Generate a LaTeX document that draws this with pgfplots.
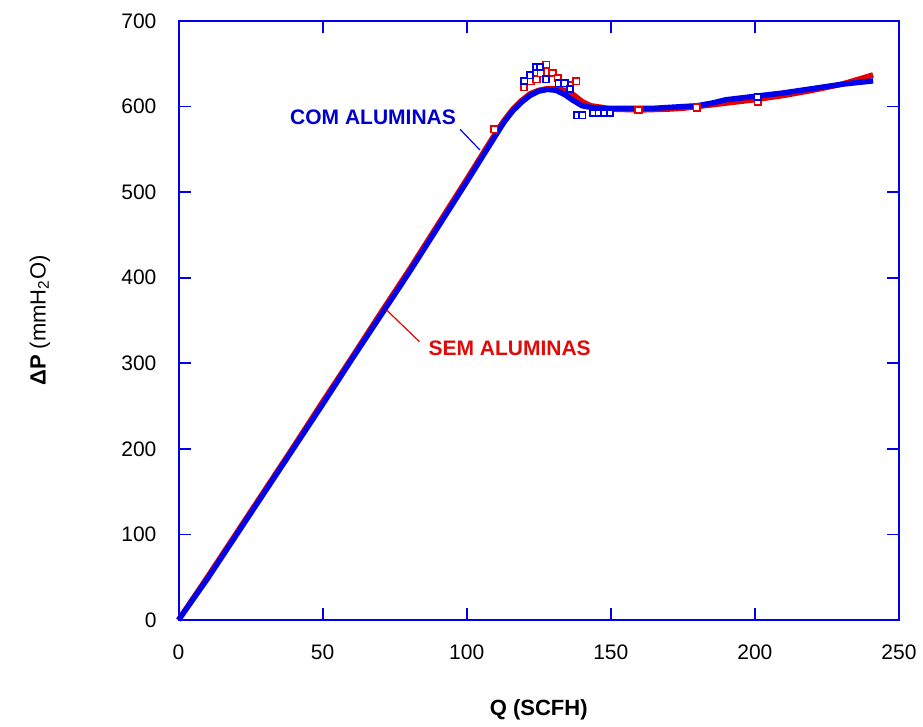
\documentclass[border=0pt]{standalone}
\usepackage{fontspec}
\setmainfont{Liberation Sans}
\usepackage{pgfplots}
\pgfplotsset{compat=1.18}
\definecolor{cblue}{RGB}{0,0,235}
\definecolor{cred}{RGB}{230,0,0}
\definecolor{tblue}{RGB}{0,0,205}
\definecolor{tred}{RGB}{225,10,10}
\begin{document}
\begin{tikzpicture}
\begin{axis}[
  scale only axis,
  width=360.25pt, height=299.5pt,
  xmin=0, xmax=250, ymin=0, ymax=700,
  xtick={0,50,...,250}, ytick={0,100,...,700},
  tick align=inside,
  major tick length=6pt,
  minor tick num=0,
  axis line style={cblue, line width=1pt},
  tick style={cblue, line width=0.9pt},
  /pgf/number format/assume math mode=true,
  ticklabel style={font=\fontsize{10.5}{12}\selectfont},
  xticklabel style={yshift=-9pt},
  yticklabel style={xshift=-7.5pt},
  xlabel={\textbf{Q (SCFH)}},
  ylabel={\textbf{ΔP} (mmH\textsubscript{2}O)},
  label style={font=\fontsize{11}{13}\selectfont},
  xlabel style={at={(axis description cs:0.5,-0.1503)}, anchor=center},
  ylabel style={at={(axis description cs:-0.1922,0.5)}, anchor=center},
  clip=false,
]
% SEM ALUMINAS (red) main curve
\addplot[cred, line width=2.7pt, line join=round] coordinates {
(0,0) (10,50) (20,101) (30,152) (40,203) (50,255) (60,306) (70,358) (80,409)
(90,462) (100,515) (105,542) (110,569) (113,584) (116,597) (119,607) (122,615)
(125,619) (128,621) (131,621) (134,619) (137,614) (140,606) (143,601) (147,599)
(150,597) (160,596) (170,597) (175,598) (180,600) (190,604) (200,608) (210,613)
(220,619) (230,626) (241,637)
};
% COM ALUMINAS (blue) main curve
\addplot[cblue, line width=2.7pt, line join=round] coordinates {
(0,0) (10,48) (20,99) (30,150) (40,201) (50,252) (60,304) (70,355) (80,406)
(90,459) (100,512) (105,539) (110,566) (113,582) (116,595) (119,605) (122,613)
(125,618) (128,620) (131,619) (134,614) (137,607) (140,601) (143,599) (147,598)
(155,598) (165,598) (175,600) (180,601) (185,604) (190,608) (200,612) (210,616)
(220,621) (230,626) (241,630)
};
% red scattered points
\addplot[only marks, mark=square*, mark size=1.6pt, mark options={draw=cred, fill=white, line width=0.9pt}] coordinates {
(109.6,573.4) (119.9,622.5) (122.1,629.5) (124.2,631.9) (125.7,638.9) (127.6,649.0)
(129.8,639.2) (131.6,633.0) (135.9,625.2) (138.0,629.5) (159.6,596) (179.8,599) (201,606)
};
% blue scattered points
\addplot[only marks, mark=square*, mark size=1.6pt, mark options={draw=cblue, fill=white, line width=0.9pt}] coordinates {
(120.0,629.9) (122.0,636.6) (124.0,646.3) (125.4,646.3) (127.5,631.9) (131.9,627.2)
(133.9,627.2) (135.8,620.5) (138.2,589.8) (140.1,589.8) (143.8,592.5) (145.8,592.5)
(147.7,592.5) (149.7,592.5) (201,611)
};
% annotations
\draw[cblue, line width=0.6pt] (axis cs:97.7,573.4) -- (axis cs:104.6,549.2);
\draw[cred, line width=0.6pt] (axis cs:72.2,362.3) -- (axis cs:83.6,325.2);
\node[text=tblue, font=\fontsize{10.5}{12}\selectfont\bfseries] at (axis cs:67.5,587.8) {COM ALUMINAS};
\node[text=tred, font=\fontsize{10.5}{12}\selectfont\bfseries] at (axis cs:114.9,317.5) {SEM ALUMINAS};
\end{axis}
\pgfresetboundingbox
\path (current axis.south west) ++(-89.25pt,-53pt) rectangle ([shift={(12pt,10.5pt)}]current axis.north east);
\end{tikzpicture}
\end{document}
